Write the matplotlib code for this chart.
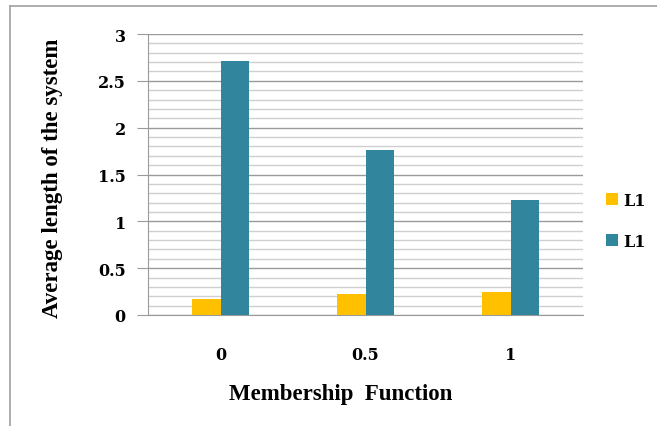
import numpy as np
import matplotlib.pyplot as plt
from matplotlib.lines import Line2D
from matplotlib.ticker import MultipleLocator

# membership function values and average system length per series
categories = ["0", "0.5", "1"]
series_names = ["L1", "L1"]
l1_yellow = [0.17, 0.22, 0.25]
l1_teal = [2.71, 1.76, 1.23]
y_ticks = [0, 0.5, 1, 1.5, 2, 2.5, 3]
y_tick_labels = ["0", "0.5", "1", "1.5", "2", "2.5", "3"]

colors = ["#FFC000", "#31859C"]

fig = plt.figure(figsize=(6.57, 4.27), dpi=100)
ax = fig.add_axes([148 / 657, 1 - 316 / 427, (583 - 148) / 657, (316 - 35) / 427])

x = np.arange(len(categories))
w = 0.197
ax.bar(x - w / 2, l1_yellow, width=w, color=colors[0], label=series_names[0], zorder=3)
ax.bar(x + w / 2, l1_teal, width=w, color=colors[1], label=series_names[1], zorder=3)

ax.set_xlim(-0.5, len(categories) - 0.5)
ax.set_ylim(0, 3)
ax.set_yticks(y_ticks)
ax.set_yticklabels(y_tick_labels)
ax.yaxis.set_minor_locator(MultipleLocator(0.1))
ax.set_xticks(x)
ax.set_xticklabels(categories)

# gridlines: darker major, lighter minor
ax.grid(axis="y", which="major", color="#9a9a9a", linewidth=1.0, zorder=0)
ax.grid(axis="y", which="minor", color="#cfcfcf", linewidth=1.0, zorder=0)
ax.set_axisbelow(True)

for s in ["top", "right"]:
    ax.spines[s].set_visible(False)
ax.spines["left"].set_color("#9a9a9a")
ax.spines["bottom"].set_color("#9a9a9a")
ax.tick_params(axis="y", which="major", length=8, color="#9a9a9a", pad=8)
ax.tick_params(axis="y", which="minor", length=0)
ax.tick_params(axis="x", length=0, pad=22)

for lbl in ax.get_yticklabels() + ax.get_xticklabels():
    lbl.set_fontfamily("DejaVu Serif")
    lbl.set_fontweight("bold")
    lbl.set_fontsize(11.5)

ax.set_xlabel("Membership  Function", fontfamily="Liberation Serif", fontweight="bold",
              fontsize=16.5)
ax.xaxis.set_label_coords(0.444, -0.243)
ax.set_ylabel("Average length of the system", fontfamily="Liberation Serif", fontweight="bold",
              fontsize=16.5)
ax.yaxis.set_label_coords(-0.195, 0.49)

leg = ax.legend(loc="center left", bbox_to_anchor=(1.02, 0.335), frameon=False,
                handlelength=0.75, handleheight=0.75, handletextpad=0.3, labelspacing=1.5,
                prop={"family": "DejaVu Serif", "weight": "bold", "size": 11.5})

# outer chart frame (left and top edges)
fig.add_artist(Line2D([10 / 657, 10 / 657], [0, 1 - 7 / 427], color="#a0a0a0", lw=1.2))
fig.add_artist(Line2D([10 / 657, 1], [1 - 7 / 427, 1 - 7 / 427], color="#a0a0a0", lw=1.2))

fig.savefig("out.png", dpi=100)
